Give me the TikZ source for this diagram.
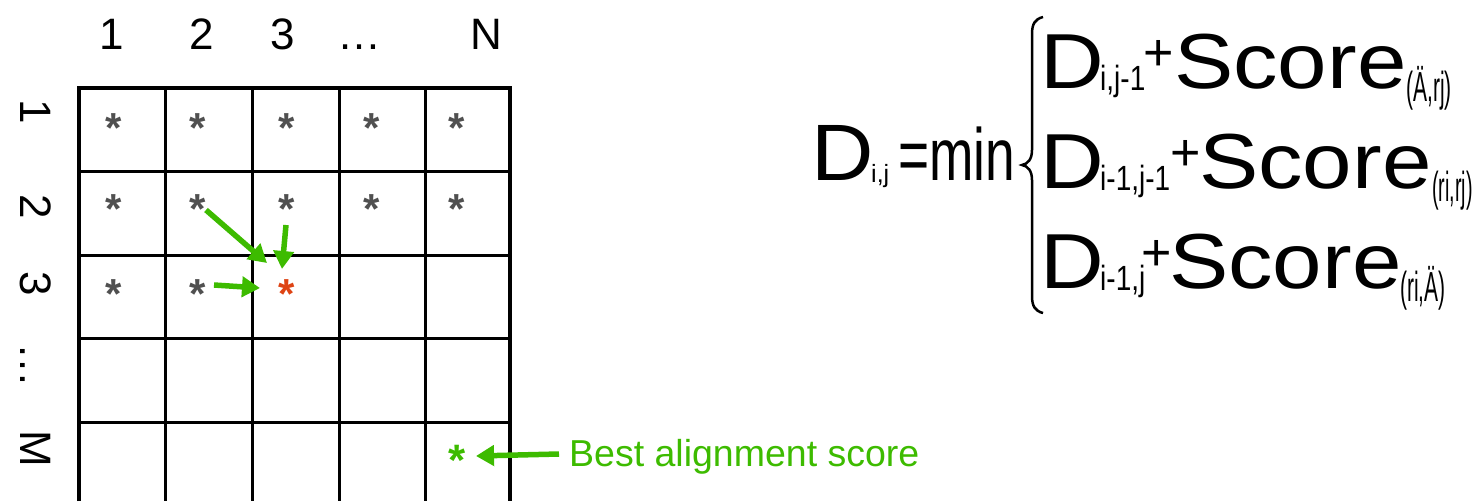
\documentclass[tikz,border=0pt]{standalone}
\usepackage{fontspec}
\setmainfont{Liberation Sans}
\usetikzlibrary{arrows.meta}
\definecolor{ggreen}{RGB}{61,187,0}
\definecolor{sgray}{RGB}{80,80,80}
\definecolor{sred}{RGB}{222,68,20}
\newcommand\fsz[2]{\fontsize{#1}{#1}\selectfont #2}
\begin{document}
\begin{tikzpicture}[x=1pt,y=-1pt,
  lbl/.style={inner sep=0pt, anchor=base, font=\fontsize{44}{44}\selectfont},
  rowlbl/.style={lbl, rotate=-90},
  star/.style={inner sep=0pt, anchor=base, font=\fontsize{42}{42}\selectfont\bfseries, text=sgray},
  garrow/.style={draw=ggreen, line width=5.5pt, -{Triangle[length=18pt,width=20pt]}},
  gridline/.style={line width=3pt},
  outer/.style={line width=4.5pt, line join=miter},
  ftxt/.style={inner sep=0pt, anchor=base west},
  fplus/.style={inner sep=0pt, anchor=base}]
\useasboundingbox (0,0) rectangle (1478,501);
% grid
\foreach \x in {165,252,339,425} \draw[gridline] (\x,88) -- (\x,501);
\foreach \y in {171,255,338,422} \draw[gridline] (79,\y) -- (510,\y);
\draw[outer] (79,501) -- (79,88) -- (510,88) -- (510,501);
% column labels
\node[lbl] (c1) at (112,49) {1};
\node[lbl] (c2) at (202,49) {2};
\node[lbl] (c3) at (283,49) {3};
\node[lbl] (cd) at (359,49) {…};
\node[lbl] (cN) at (486,49) {N};
% row labels
\node[rowlbl] (r1) at (20,112) {1};
\node[rowlbl] (r2) at (20,207) {2};
\node[rowlbl] (r3) at (20,284) {3};
\node[rowlbl] (rd) at (20,365) {…};
\node[rowlbl] (rM) at (20,449) {M};
% stars
\foreach \c/\x in {1/114,2/198,3/287,4/372,5/457} {
  \node[star] (s1\c) at (\x,142) {*};
  \node[star] (s2\c) at (\x,223) {*};
}
\node[star] (s31) at (114,308) {*};
\node[star] (s32) at (198,308) {*};
\node[star, text=sred] (s33) at (287,308) {*};
\node[star, text=ggreen, font=\fontsize{44}{44}\selectfont\bfseries] (sMN) at (457,475) {*};
% arrows
\coordinate (a1s) at (206,210); \coordinate (a1e) at (267,263);
\coordinate (a2s) at (286,225); \coordinate (a2e) at (282,269);
\coordinate (a3s) at (214,285); \coordinate (a3e) at (260,288);
\coordinate (a4s) at (559,454); \coordinate (a4e) at (476,456);
\draw[garrow] (a1s) -- (a1e);
\draw[garrow] (a2s) -- (a2e);
\draw[garrow] (a3s) -- (a3e);
\draw[garrow] (a4s) -- (a4e);
\node[ftxt, text=ggreen] (best) at (569,466) {\fsz{37.5}{Best alignment score}};
% formula left
\node[ftxt] (Dl) at (811,180) {\makebox[56pt][l]{\scalebox{1.08}[1]{\fsz{80}{D}}}};
\node[ftxt] (Dlsub) at (871,182) {\fsz{25}{i,j}};
\node[ftxt] (eqmin) at (898,180) {\scalebox{0.72}[1]{\fsz{74}{=min}}};
% brace
\draw[line width=2.5pt] (1043,17) .. controls (1035,19) and (1032,24) .. (1032,34) -- (1032,150) .. controls (1032,159) and (1028,164) .. (1022,165) .. controls (1028,166) and (1032,171) .. (1032,180) -- (1032,296) .. controls (1032,306) and (1035,311) .. (1043,313);
% line 1
\node[ftxt] (D1) at (1040,88) {\makebox[59pt][l]{\scalebox{1.13}[1]{\fsz{78}{D}}}};
\node[ftxt] (D1s) at (1100,90) {\scalebox{0.8}[1]{\fsz{35}{i,j-1}}};
\node[fplus] (p1) at (1159,70) {\fsz{52}{+}};
\node[ftxt] (S1) at (1174,88) {\scalebox{1.14}[1]{\fsz{78}{Score}}};
\node[ftxt] (S1s) at (1406,101) {\scalebox{0.5}[1]{\fsz{42}{(Ä,rj)}}};
% line 2
\node[ftxt] (D2) at (1040,188) {\makebox[59pt][l]{\scalebox{1.13}[1]{\fsz{78}{D}}}};
\node[ftxt] (D2s) at (1100,190) {\scalebox{0.8}[1]{\fsz{35}{i-1,j-1}}};
\node[fplus] (p2) at (1186,170) {\fsz{52}{+}};
\node[ftxt] (S2) at (1199,188) {\scalebox{1.14}[1]{\fsz{78}{Score}}};
\node[ftxt] (S2s) at (1432,201) {\scalebox{0.47}[1]{\fsz{42}{(ri,rj)}}};
% line 3
\node[ftxt] (D3) at (1040,288) {\makebox[59pt][l]{\scalebox{1.13}[1]{\fsz{78}{D}}}};
\node[ftxt] (D3s) at (1100,290) {\scalebox{0.8}[1]{\fsz{35}{i-1,j}}};
\node[fplus] (p3) at (1157,270) {\fsz{52}{+}};
\node[ftxt] (S3) at (1169,288) {\scalebox{1.14}[1]{\fsz{78}{Score}}};
\node[ftxt] (S3s) at (1400,301) {\scalebox{0.5}[1]{\fsz{42}{(ri,Ä)}}};
\end{tikzpicture}
\end{document}
